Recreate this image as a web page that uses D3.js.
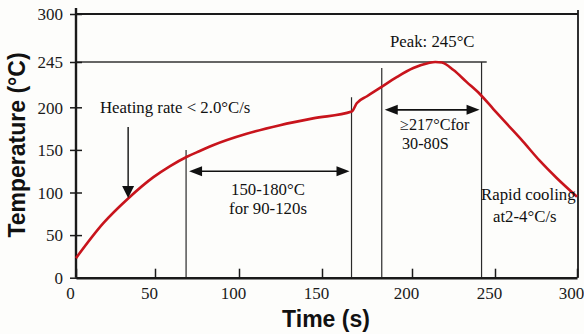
<!DOCTYPE html>
<html>
<head>
<meta charset="utf-8">
<script src="https://cdn.jsdelivr.net/npm/d3@7"></script>
<style>
  body { margin: 0; background: #fdfdfb; }
  svg { display: block; }
</style>
</head>
<body>
<div id="chart"></div>
<script>
let width = 584
let height = 334

// reflow profile (time in s, temperature in °C)
let times = [0, 17.3, 33, 49, 59, 69, 77, 84.5, 104.6, 124.7, 144.6, 166.5, 169.3, 175, 182, 191.5, 200.8, 210, 214, 218, 225, 233, 241, 249, 257, 267, 277.4, 287.6, 300]
let temps = [23, 64, 93, 118, 131, 142, 149, 155.5, 169, 179, 187, 195, 204, 211, 219, 230, 239, 244, 245, 244.5, 237, 225, 213, 198, 181, 160, 137, 117, 95]

let xTicks = [0, 50, 100, 150, 200, 250, 300]
let yTicks = [0, 50, 100, 150, 200, 245, 300]

// zone borders: time and the temperature where the line stops
let zoneTimes = [68.5, 166.4, 183.2, 241.9]
let zoneTops = [150, 210, 239, 245]

let peakTemp = 245
let peakLineEnd = 245

let serif = '"Liberation Serif", "Times New Roman", serif'
let sans = '"Liberation Sans", Arial, sans-serif'

// the original axes are hand drawn, so the scales are piecewise
let xScale = d3.scaleLinear()
  .domain(xTicks)
  .range([76, 155, 239, 322, 412, 495, 577])

let yScale = d3.scaleLinear()
  .domain([0, 200, 245, 300])
  .range([277.7, 107.3, 62, 14])

let svg = d3.select('#chart').append('svg')
  .attr('width', width)
  .attr('height', height)

svg.append('rect')
  .attr('width', width)
  .attr('height', height)
  .attr('fill', '#fdfdfb')

let ink = '#1a1a1a'

// frame on top and right
svg.append('line')
  .attr('x1', xScale(0)).attr('x2', xScale(300) + 1)
  .attr('y1', yScale(300)).attr('y2', yScale(300))
  .attr('stroke', ink).attr('stroke-width', 1.8)
svg.append('line')
  .attr('x1', xScale(300) + 1).attr('x2', xScale(300) + 1)
  .attr('y1', yScale(300) - 4).attr('y2', yScale(0))
  .attr('stroke', ink).attr('stroke-width', 1.8)

// peak line
svg.append('line')
  .attr('x1', xScale(0)).attr('x2', xScale(peakLineEnd))
  .attr('y1', yScale(peakTemp)).attr('y2', yScale(peakTemp))
  .attr('stroke', '#333').attr('stroke-width', 1.3)

// zone borders
svg.append('g').selectAll('line')
  .data(zoneTimes)
  .enter().append('line')
  .attr('x1', (d) => xScale(d))
  .attr('x2', (d) => xScale(d))
  .attr('y1', yScale(0))
  .attr('y2', (d, i) => yScale(zoneTops[i]))
  .attr('stroke', '#2a2a2a')
  .attr('stroke-width', 1.2)

// axes
let xAxis = svg.append('g')
  .attr('transform', 'translate(0,' + yScale(0) + ')')
  .call(d3.axisBottom(xScale).tickValues(xTicks).tickSizeInner(-9).tickSizeOuter(0))
xAxis.select('.domain').attr('stroke', ink).attr('stroke-width', 2.4)
xAxis.selectAll('.tick line').attr('stroke', ink).attr('stroke-width', 1.5)
xAxis.selectAll('.tick text')
  .attr('y', 21).attr('dy', 0).attr('dx', -6)
  .attr('fill', ink)
  .style('font-family', serif).style('font-size', '17px')

let yAxis = svg.append('g')
  .attr('transform', 'translate(' + xScale(0) + ',0)')
  .call(d3.axisLeft(yScale).tickValues(yTicks).tickSizeInner(6).tickSizeOuter(0))
yAxis.select('.domain').attr('stroke', ink).attr('stroke-width', 2.4)
  .attr('d', 'M0,' + yScale(0) + 'V' + (yScale(300) - 6))
yAxis.selectAll('.tick line').attr('x1', 6).attr('stroke', ink).attr('stroke-width', 1.5)
yAxis.selectAll('.tick text')
  .attr('x', -13).attr('dy', '0.34em')
  .attr('fill', ink)
  .style('font-family', serif).style('font-size', '17px')

// temperature curve
let line = d3.line()
  .x((d, i) => xScale(times[i]))
  .y((d) => yScale(d))
  .curve(d3.curveMonotoneX)

svg.append('path')
  .datum(temps)
  .attr('d', line)
  .attr('fill', 'none')
  .attr('stroke', '#c8141c')
  .attr('stroke-width', 2.6)

// arrows
let arrowHead = (x, y, dir) => {
  // dir: 'down', 'left', 'right'
  let pts
  if (dir === 'down') pts = [[x, y], [x - 6, y - 12], [x + 6, y - 12]]
  else if (dir === 'left') pts = [[x, y], [x + 13, y - 5], [x + 13, y + 5]]
  else pts = [[x, y], [x - 13, y - 5], [x - 13, y + 5]]
  svg.append('path')
    .attr('d', 'M' + pts.map((p) => p.join(',')).join('L') + 'Z')
    .attr('fill', '#111')
}

let doubleArrow = (t1, t2, temp) => {
  let x1 = xScale(t1) + 3
  let x2 = xScale(t2) - 2
  let y = yScale(temp)
  svg.append('line')
    .attr('x1', x1 + 6).attr('x2', x2 - 6)
    .attr('y1', y).attr('y2', y)
    .attr('stroke', '#111').attr('stroke-width', 1.6)
  arrowHead(x1, y, 'left')
  arrowHead(x2, y, 'right')
}

// heating rate arrow
svg.append('line')
  .attr('x1', xScale(33)).attr('x2', xScale(33))
  .attr('y1', yScale(177)).attr('y2', yScale(93.5) - 10)
  .attr('stroke', '#111').attr('stroke-width', 1.4)
arrowHead(xScale(33), yScale(93.5), 'down')

doubleArrow(zoneTimes[0], zoneTimes[1], 125)
doubleArrow(zoneTimes[2], zoneTimes[3], 197)

// annotation texts
let note = (x, y, txt, anchor, size) => {
  svg.append('text')
    .attr('x', x).attr('y', y)
    .attr('text-anchor', anchor || 'start')
    .attr('fill', '#111')
    .style('font-family', serif)
    .style('font-size', (size || 16.8) + 'px')
    .text(txt)
}

note(100, 113, 'Heating rate < 2.0°C/s')
note(390, 47, 'Peak: 245°C')
note(268, 195, '150-180°C', 'middle')
note(268, 214, 'for 90-120s', 'middle')
note(400, 129.5, '≥217°Cfor', 'start', 16.2)
note(402, 149, '30-80S', 'start', 16.2)
note(481, 200, 'Rapid cooling')
note(493, 222, 'at2-4°C/s')

// axis titles
svg.append('text')
  .attr('x', 326).attr('y', 327)
  .attr('text-anchor', 'middle')
  .attr('fill', '#111')
  .style('font-family', sans).style('font-weight', 'bold').style('font-size', '23px')
  .text('Time (s)')

svg.append('text')
  .attr('transform', 'translate(25,145) rotate(-90)')
  .attr('text-anchor', 'middle')
  .attr('fill', '#111')
  .style('font-family', sans).style('font-weight', 'bold').style('font-size', '23px')
  .text('Temperature (°C)')
</script>
</body>
</html>
